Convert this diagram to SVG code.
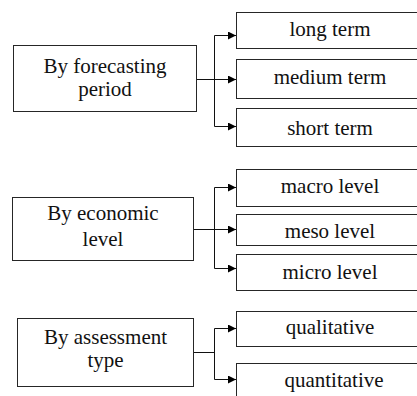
<svg xmlns="http://www.w3.org/2000/svg" width="417" height="396" viewBox="0 0 417 396">
  <style>
    .box { fill: #ffffff; stroke: #262626; stroke-width: 1; }
    .label { font-family: 'Liberation Serif', 'Times New Roman', Times, serif; font-size: 21px; fill: #111111; text-anchor: middle; }
    .wire { fill: none; stroke: #111111; stroke-width: 1; }
  </style>
  <defs>
    <marker id="arrow" viewBox="0 0 10 10" refX="10" refY="5" markerWidth="9" markerHeight="8" markerUnits="userSpaceOnUse" orient="auto">
      <path d="M0,0 L10,5 L0,10 Z" fill="#000000"/>
    </marker>
  </defs>
  <rect width="417" height="396" fill="#ffffff"/>

  <!-- category nodes -->
  <g id="forecasting-period">
    <rect class="box" x="13.5" y="45.5" width="183" height="66"/>
    <text class="label" x="105" y="73">By forecasting</text>
    <text class="label" x="105" y="96">period</text>
  </g>
  <g id="economic-level">
    <rect class="box" x="12.5" y="197.5" width="181" height="63"/>
    <text class="label" x="103" y="220">By economic</text>
    <text class="label" x="103" y="246">level</text>
  </g>
  <g id="assessment-type">
    <rect class="box" x="17.5" y="318.5" width="176" height="68"/>
    <text class="label" x="105.5" y="344">By assessment</text>
    <text class="label" x="105.5" y="367">type</text>
  </g>

  <!-- leaf nodes -->
  <g id="long-term">
    <rect class="box" x="236.5" y="12.5" width="188" height="36"/>
    <text class="label" x="330" y="36">long term</text>
  </g>
  <g id="medium-term">
    <rect class="box" x="236.5" y="59.5" width="188" height="39"/>
    <text class="label" x="330" y="84">medium term</text>
  </g>
  <g id="short-term">
    <rect class="box" x="236.5" y="108.5" width="188" height="38"/>
    <text class="label" x="330" y="135">short term</text>
  </g>
  <g id="macro-level">
    <rect class="box" x="236.5" y="169.5" width="188" height="37"/>
    <text class="label" x="330" y="193">macro level</text>
  </g>
  <g id="meso-level">
    <rect class="box" x="236.5" y="214.5" width="188" height="31"/>
    <text class="label" x="330" y="238">meso level</text>
  </g>
  <g id="micro-level">
    <rect class="box" x="236.5" y="254.5" width="188" height="36"/>
    <text class="label" x="330" y="279">micro level</text>
  </g>
  <g id="qualitative">
    <rect class="box" x="236.5" y="311.5" width="188" height="35"/>
    <text class="label" x="330" y="334">qualitative</text>
  </g>
  <g id="quantitative">
    <rect class="box" x="236.5" y="363.5" width="188" height="40"/>
    <text class="label" x="334" y="387">quantitative</text>
  </g>

  <!-- connectors -->
  <g id="connectors">
    <path class="wire" d="M197,79.5 H236" marker-end="url(#arrow)"/>
    <path class="wire" d="M214.5,35.5 V126.5"/>
    <path class="wire" d="M214.5,35.5 H236" marker-end="url(#arrow)"/>
    <path class="wire" d="M214.5,126.5 H236" marker-end="url(#arrow)"/>

    <path class="wire" d="M194,229.5 H236" marker-end="url(#arrow)"/>
    <path class="wire" d="M214.5,187.5 V268.5"/>
    <path class="wire" d="M214.5,187.5 H236" marker-end="url(#arrow)"/>
    <path class="wire" d="M214.5,268.5 H236" marker-end="url(#arrow)"/>

    <path class="wire" d="M194,352.5 H214.5"/>
    <path class="wire" d="M214.5,328.5 V379.5"/>
    <path class="wire" d="M214.5,328.5 H236" marker-end="url(#arrow)"/>
    <path class="wire" d="M214.5,379.5 H236" marker-end="url(#arrow)"/>
  </g>
</svg>
